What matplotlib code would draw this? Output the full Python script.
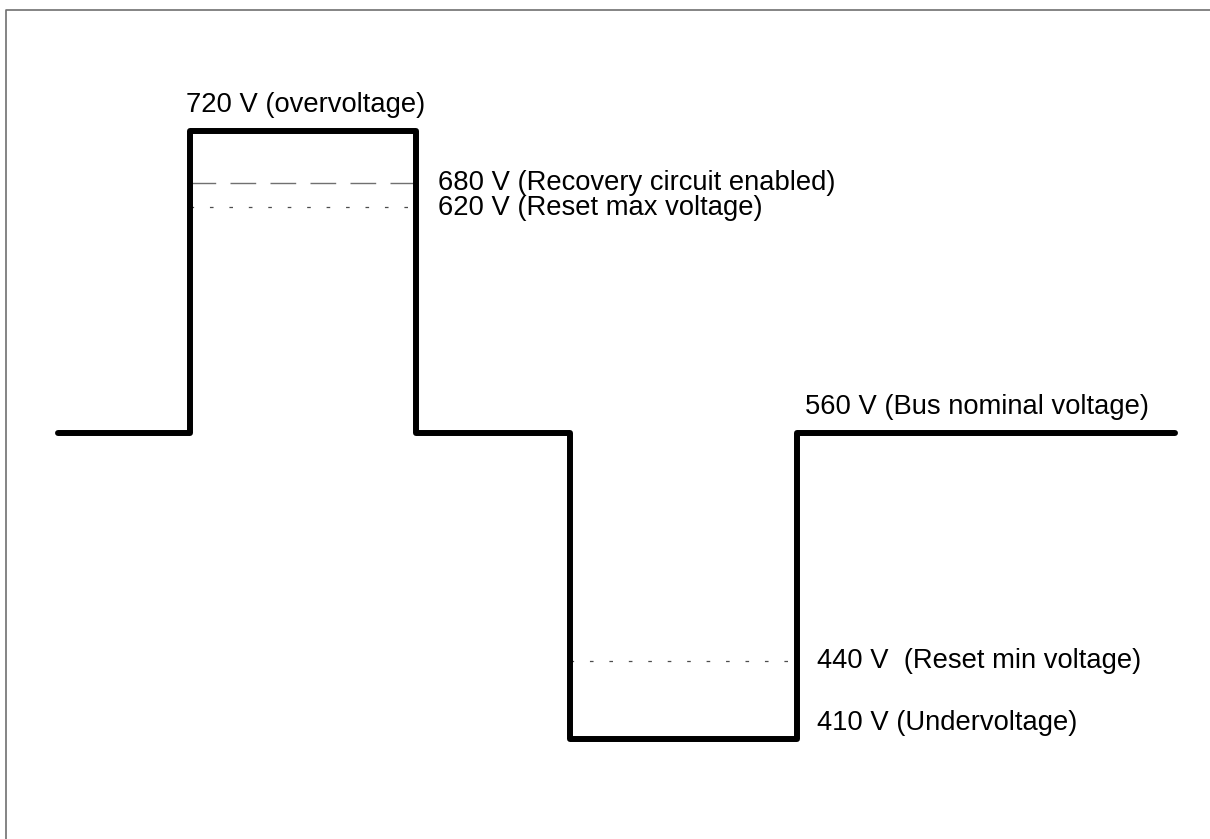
import matplotlib
matplotlib.use("Agg")
from matplotlib import pyplot as plt

plt.rcParams["font.family"] = ["Liberation Sans", "DejaVu Sans"]
plt.rcParams["lines.scale_dashes"] = False

# schematic bus voltage profile (time in arbitrary units, not to scale)
edges = [5.8, 19.0, 41.6, 57.0, 79.7, 117.5]
volts = [560, 720, 560, 410, 560, 560]

# voltage levels -> drawn height (the sketch is not linear in volts)
level_volts = [720, 680, 620, 560, 440, 410]
level_height = [70.8, 65.6, 63.2, 40.6, 17.8, 10.0]
height = dict(zip(level_volts, level_height))

labels = {
    720: "720 V (overvoltage)",
    680: "680 V (Recovery circuit enabled)",
    620: "620 V (Reset max voltage)",
    560: "560 V (Bus nominal voltage)",
    440: "440 V  (Reset min voltage)",
    410: "410 V (Undervoltage)",
}

fig = plt.figure(figsize=(12.1, 8.39), dpi=100)
ax = fig.add_axes([0, 0, 1, 1])
ax.set_xlim(0, 121)
ax.set_ylim(0, 83.9)
ax.axis("off")

# frame
ax.plot([0.55, 0.55, 121], [0, 82.9, 82.9], color="#707070", lw=1.2)

# threshold lines
ax.plot([edges[1], edges[2]], [height[680]] * 2, color="#707070", lw=1.0,
        linestyle=(0, (18.5, 10.3)))
ax.plot([edges[1], edges[2]], [height[620]] * 2, color="#4d4d4d", lw=0.9,
        linestyle=(0, (2.6, 11.4)))
ax.plot([edges[3], edges[4]], [height[440]] * 2, color="#4d4d4d", lw=0.9,
        linestyle=(0, (2.6, 11.4)))

# waveform
ax.plot(edges, [height[v] for v in volts], drawstyle="steps-post",
        color="black", lw=4.3, solid_joinstyle="round", solid_capstyle="round")

fs = 19.7
ax.text(18.6, height[720] + 2.6, labels[720], fontsize=fs, va="center")
ax.text(43.8, height[680], labels[680], fontsize=fs, va="center")
ax.text(43.8, height[620] - 0.1, labels[620], fontsize=fs, va="center")
ax.text(80.5, height[560] + 2.6, labels[560], fontsize=fs, va="center")
ax.text(81.7, height[440], labels[440], fontsize=fs, va="center")
ax.text(81.7, height[410] + 1.6, labels[410], fontsize=fs, va="center")

fig.savefig("out.png", dpi=100)
